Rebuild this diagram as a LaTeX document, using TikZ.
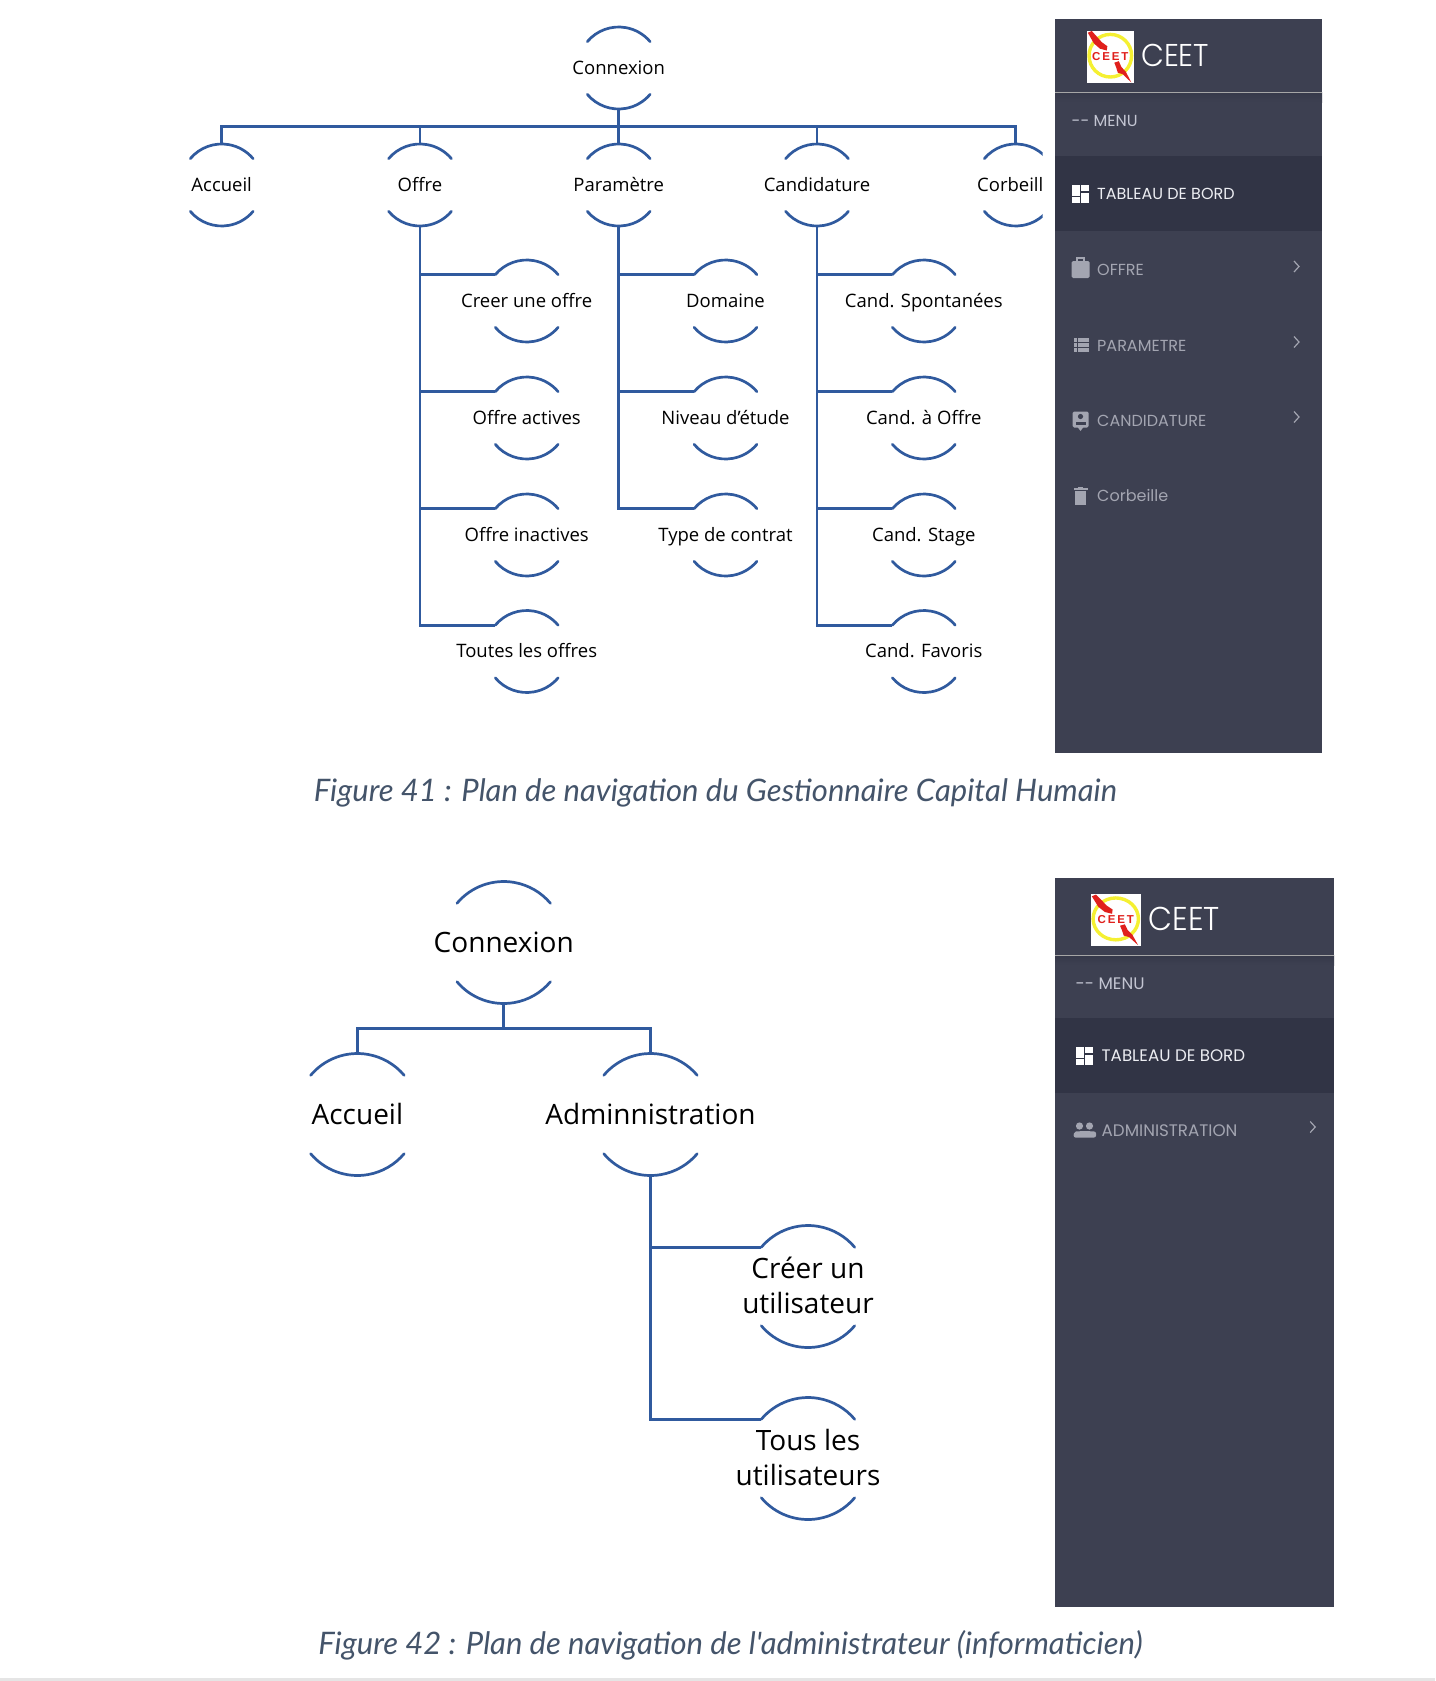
\documentclass[tikz,border=0pt]{standalone}
\usepackage{fontspec}
\setmainfont{Open Sans}
\newfontfamily\pop{Poppins}
\newfontfamily\popl{Poppins Light}[FakeStretch=0.94]
\newfontfamily\capf{Lato}
\newfontfamily\logofont{Liberation Sans}
\usetikzlibrary{calc}
\definecolor{navblue}{HTML}{305A9E}
\definecolor{sidebase}{HTML}{3D4051}
\definecolor{sideband}{HTML}{313445}
\definecolor{itemgrey}{HTML}{A3A5B1}
\definecolor{itemwhite}{HTML}{ECEDF2}
\definecolor{menugrey}{HTML}{C3C5D2}
\definecolor{capcol}{HTML}{44546A}
\definecolor{logored}{HTML}{E0201C}
\definecolor{logoyel}{HTML}{F5F032}
\tikzset{
  x=1pt,y=1pt,
  navhole/.style={circle,inner sep=0pt,outer sep=0pt,minimum size=2*#1*1pt},
  navarc/.style={draw=navblue,line width=2.7pt,line cap=round},
  link/.style={draw=navblue,line width=2.7pt},
  smalltext/.style={font=\fontsize{18.5}{22}\selectfont,text=black,inner sep=0pt,text height=.72em,text depth=.22em,yshift=-3.8pt},
  bigtext/.style={font=\fontsize{28}{35}\selectfont,text=black,inner sep=0pt,text height=.72em,text depth=.22em,yshift=-7.5pt},
  bigtwo/.style={font=\fontsize{28}{35}\selectfont,text=black,inner sep=0pt,align=center},
  itemtext/.style={font=\pop\fontsize{16}{20}\selectfont,anchor=west,inner sep=0pt,text height=.72em,text depth=.1em,yshift=-3pt},
  itemtextb/.style={font=\pop\fontsize{16.7}{20}\selectfont,anchor=west,inner sep=0pt,text height=.72em,text depth=.1em,yshift=-3pt},
  captiontext/.style={font=\capf\itshape\fontsize{31}{36}\selectfont,text=capcol,inner sep=0pt},
  chev/.style={draw=itemgrey,line width=1.2pt},
}
% name, x, y, radius
\newcommand{\navshape}[4]{%
  \node[navhole=#4] (#1) at (#2,#3) {};
  \draw[navarc] (#1.140) arc[start angle=140,end angle=40,radius=#4];
  \draw[navarc] (#1.220) arc[start angle=220,end angle=320,radius=#4];
}
\newcommand{\chevron}[2]{%
  \draw[chev] (#1-2.5,#2+5.5) -- (#1+2.5,#2) -- (#1-2.5,#2-5.5);
}
% name, x y (top-left), w h
\newcommand{\ceetlogo}[5]{%
  \begin{scope}[shift={(#2,#3)},xscale=#4/46.7,yscale=#5/52.6]
    \fill[white] (0,0) rectangle (46.7,-52.6);
    \draw[logoyel,line width=3.4pt] (23,-25) circle (21.3);
    \fill[logored] (0.5,-2) -- (4.5,-0.3) -- (14.5,-11.5) -- (20,-15.5) -- (19.5,-19.8) -- (12.7,-18) -- (6.5,-12.6) -- cycle;
    \fill[logored] (27,-32) -- (31.5,-30.5) -- (34.2,-36.5) -- (38.5,-41) -- (44,-51.8) -- (35.5,-43.5) -- (30.5,-42) -- (28.8,-36.5) -- cycle;
    \node[inner sep=0pt,text=logored] (#1) at (23,-26) {\logofont\bfseries\fontsize{11.5}{12}\selectfont C\,E\,E\,T};
  \end{scope}
}
\newcommand{\icontableau}[2]{%
  \begin{scope}[shift={(#1,#2)}]
    \fill[white] (0,0) rectangle (7.5,-10.5);
    \fill[white] (9,0) rectangle (16.5,-6);
    \fill[white] (0,-12) rectangle (7.5,-18);
    \fill[white] (9,-7.5) rectangle (16.5,-18);
  \end{scope}
}
\begin{document}
\begin{tikzpicture}
\useasboundingbox (0,0) rectangle (1435,-1681);
\fill[white] (0,0) rectangle (1435,-1681);
\fill[black!10] (0,-1677.5) rectangle (1435,-1681);

%%% Figure 41 tree
\navshape{conn}{618.7}{-68}{41}
\navshape{acc}{221.7}{-185}{41}
\navshape{off}{420}{-185}{41}
\navshape{par}{618.7}{-185}{41}
\navshape{cand}{817}{-185}{41}
\begin{scope}
  \clip (950,-120) rectangle (1042.5,-240);
  \navshape{corb}{1015.7}{-185}{41}
\end{scope}
\navshape{offa}{526.7}{-301}{41}
\navshape{offb}{526.7}{-418}{41}
\navshape{offc}{526.7}{-535}{41}
\navshape{offd}{526.7}{-651.5}{41}
\navshape{para}{725.5}{-301}{41}
\navshape{parb}{725.5}{-418}{41}
\navshape{parc}{725.5}{-535}{41}
\navshape{canda}{923.8}{-301}{41}
\navshape{candb}{923.8}{-418}{41}
\navshape{candc}{923.8}{-535}{41}
\navshape{candd}{923.8}{-651.5}{41}

\coordinate (barA) at (0,-126.7);
\draw[link] (acc.north) -- (acc.north|-barA) -- (corb.north|-barA) -- (corb.north);
\draw[link] (conn.south) -- (par.north);
\draw[link] (off.north) -- (off.north|-barA);
\draw[link] (cand.north) -- (cand.north|-barA);
\foreach \c in {offa,offb,offc,offd}{\draw[link] (off.south) |- (\c.140);}
\foreach \c in {para,parb,parc}{\draw[link] (par.south) |- (\c.140);}
\foreach \c in {canda,candb,candc,candd}{\draw[link] (cand.south) |- (\c.140);}

\node[smalltext] (tconn) at (conn) {Connexion};
\node[smalltext] (tacc) at (acc) {Accueil};
\node[smalltext] (toff) at (off) {Offre};
\node[smalltext] (tpar) at (par) {Paramètre};
\node[smalltext] (tcand) at (cand) {Candidature};
\node[smalltext,anchor=east] (tcorb) at (1043.5,-185) {Corbeill};
\node[smalltext] (toffa) at (offa) {Creer une offre};
\node[smalltext] (toffb) at (offb) {Offre actives};
\node[smalltext] (toffc) at (offc) {Offre inactives};
\node[smalltext] (toffd) at (offd) {Toutes les offres};
\node[smalltext] (tpara) at (para) {Domaine};
\node[smalltext] (tparb) at (parb) {Niveau d'étude};
\node[smalltext] (tparc) at (parc) {Type de contrat};
\node[smalltext] (tcanda) at (canda) {Cand. Spontanées};
\node[smalltext] (tcandb) at (candb) {Cand. à Offre};
\node[smalltext] (tcandc) at (candc) {Cand. Stage};
\node[smalltext] (tcandd) at (candd) {Cand. Favoris};

\node[captiontext] (cap41) at (715.5,-792.5) {Figure 41 : Plan de navigation du Gestionnaire Capital Humain};

%%% Figure 42 tree
\navshape{conn2}{503.7}{-942.5}{61}
\navshape{acc2}{357.4}{-1114.5}{61}
\navshape{adm}{650.5}{-1114.5}{61}
\navshape{cre}{808}{-1286.5}{61}
\navshape{tous}{808}{-1458.5}{61}
\coordinate (barB) at (0,-1028.3);
\draw[link] (acc2.north) -- (acc2.north|-barB) -- (adm.north|-barB) -- (adm.north);
\draw[link] (conn2.south) -- (conn2.south|-barB);
\draw[link] (adm.south) |- (cre.140);
\draw[link] (adm.south) |- (tous.140);
\node[bigtext] (tconn2) at (conn2) {Connexion};
\node[bigtext] (tacc2) at (acc2) {Accueil};
\node[bigtext] (tadm) at (adm) {Adminnistration};
\node[bigtwo] (tcre) at (808,-1285) {Créer un\\utilisateur};
\node[bigtwo] (ttous) at (808,-1457.5) {Tous les\\utilisateurs};

\node[captiontext] (cap42) at (730.5,-1645) {Figure 42 : Plan de navigation de l'administrateur (informaticien)};

%%% Sidebar 1
\fill[sidebase] (1055,-19) rectangle (1322,-753.4);
\shade[top color=sideband!60!sidebase,bottom color=sidebase] (1055,-92) rectangle (1322,-102);
\draw[black!35,line width=1pt] (1055,-92) -- (1322,-92);
\fill[sideband] (1055,-156) rectangle (1322,-231);
\ceetlogo{logoA}{1087.3}{-30.7}{46.7}{52.6}
\node[font=\popl\fontsize{31.5}{36}\selectfont,text=white,anchor=west,inner sep=0pt] (ceetA) at (1141,-55) {CEET};
\node[itemtext,text=menugrey] (menuA) at (1071.5,-120.7) {-- MENU};
\icontableau{1072}{-185}
\node[itemtext,text=itemwhite] (tabA) at (1097,-193.5) {TABLEAU DE BORD};
% briefcase
\fill[itemgrey,rounded corners=1.5pt] (1071.5,-261) rectangle (1089.5,-278);
\draw[itemgrey,line width=1.4pt] (1077,-261) -- (1077,-258) -- (1084,-258) -- (1084,-261);
\node[itemtext,text=itemgrey] (offA) at (1097,-269) {OFFRE};
\chevron{1296.5}{-266.5}
% list
\foreach \yy in {-339.5,-344.5,-349.5}{
  \fill[itemgrey] (1073.5,\yy+2) rectangle (1077,\yy-2);
  \fill[itemgrey] (1078.2,\yy+2) rectangle (1088.5,\yy-2);
}
\node[itemtext,text=itemgrey] (parA) at (1097,-345) {PARAMETRE};
\chevron{1296.5}{-342}
% contact
\fill[itemgrey,rounded corners=1.5pt] (1072.5,-411.5) rectangle (1088.5,-427.5);
\fill[itemgrey] (1077.5,-427) -- (1083.5,-427) -- (1080.5,-431) -- cycle;
\fill[sidebase] (1080.5,-416.5) circle (2.6);
\fill[sidebase] (1075.5,-425) rectangle (1085.5,-421.5);
\node[itemtext,text=itemgrey] (candA) at (1097,-420) {CANDIDATURE};
\chevron{1296.5}{-417}
% trash
\fill[itemgrey] (1075,-490.5) rectangle (1086,-504.5);
\fill[itemgrey] (1073.5,-487.5) rectangle (1087.5,-489.5);
\fill[itemgrey] (1078,-486.5) rectangle (1083,-488);
\node[itemtext,text=itemgrey] (corbA) at (1097,-495.5) {Corbeille};

%%% Sidebar 2
\fill[sidebase] (1055,-878) rectangle (1334,-1606.7);
\shade[top color=sideband!60!sidebase,bottom color=sidebase] (1055,-955.3) rectangle (1334,-965);
\draw[black!35,line width=1pt] (1055,-955.3) -- (1334,-955.3);
\fill[sideband] (1055,-1017.7) rectangle (1334,-1092.7);
\ceetlogo{logoB}{1091.3}{-894.3}{49.7}{51.7}
\node[font=\popl\fontsize{33}{36}\selectfont,text=white,anchor=west,inner sep=0pt] (ceetB) at (1148.5,-919) {CEET};
\node[itemtextb,text=menugrey] (menuB) at (1075.5,-983) {-- MENU};
\icontableau{1076}{-1047}
\node[itemtextb,text=itemwhite] (tabB) at (1101.5,-1055) {TABLEAU DE BORD};
% people
\fill[itemgrey] (1079.5,-1126) circle (3.6);
\fill[itemgrey] (1089.5,-1126) circle (3.6);
\fill[itemgrey,rounded corners=2pt] (1073.5,-1137.5) -- (1074,-1131.5) -- (1085,-1131) -- (1096,-1131.5) -- (1096,-1137.5) -- cycle;
\node[itemtextb,text=itemgrey] (admB) at (1101.5,-1130) {ADMINISTRATION};
\chevron{1312.7}{-1127}
\end{tikzpicture}
\end{document}
